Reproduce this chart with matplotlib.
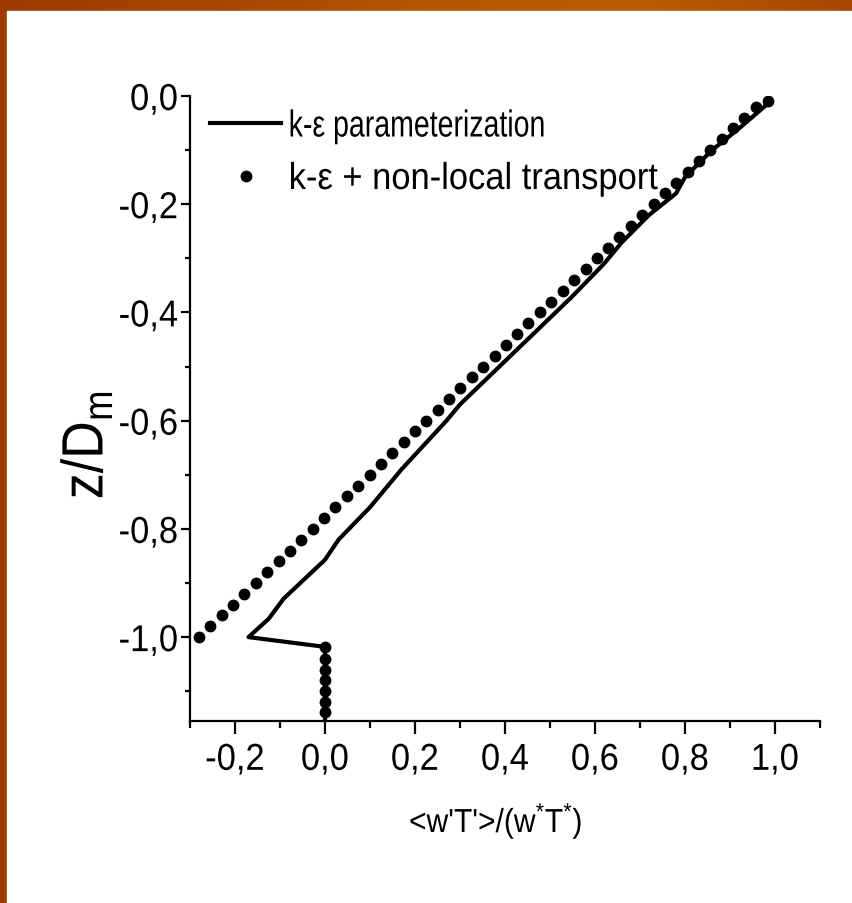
import matplotlib
matplotlib.use('Agg')
import matplotlib.pyplot as plt
from matplotlib.patches import Rectangle
from matplotlib.patheffects import AbstractPathEffect
from matplotlib.transforms import Affine2D
from matplotlib.ticker import MultipleLocator, FuncFormatter
import numpy as np

# k-epsilon parameterization (solid line)
ke_x = [0.0, 0.0, -0.17, -0.125, -0.092, 0.0, 0.03, 0.10, 0.15, 0.17, 0.27,
        0.30, 0.40, 0.45, 0.55, 0.62, 0.66, 0.72, 0.78, 0.80, 0.86, 0.92, 0.99]
ke_z = [-1.16, -1.018, -1.0, -0.966, -0.929, -0.857, -0.82, -0.76, -0.71,
        -0.69, -0.60, -0.57, -0.49, -0.45, -0.37, -0.31, -0.27, -0.22, -0.18,
        -0.15, -0.10, -0.06, -0.01]

# k-epsilon + non-local transport (dots)
nl_x = [0.0, 0.0, 0.0, 0.0, 0.0, 0.0, 0.0,
        -0.280, -0.255, -0.229, -0.204, -0.179, -0.154, -0.128, -0.103,
        -0.078, -0.053, -0.027, -0.002, 0.023, 0.048, 0.074, 0.099, 0.124,
        0.149, 0.175, 0.200, 0.225, 0.250, 0.276, 0.301, 0.326, 0.351, 0.377,
        0.402, 0.427, 0.452, 0.478, 0.503, 0.528, 0.553, 0.579, 0.604, 0.629,
        0.654, 0.680, 0.705, 0.730, 0.755, 0.781, 0.806, 0.831, 0.856, 0.882,
        0.907, 0.932, 0.957, 0.985]
nl_z = [-1.138, -1.12, -1.10, -1.08, -1.06, -1.04, -1.018,
        -1.00, -0.98, -0.96, -0.94, -0.92, -0.90, -0.88, -0.86,
        -0.84, -0.82, -0.80, -0.78, -0.76, -0.74, -0.72, -0.70, -0.68,
        -0.66, -0.64, -0.62, -0.60, -0.58, -0.56, -0.54, -0.52, -0.50, -0.48,
        -0.46, -0.44, -0.42, -0.40, -0.38, -0.36, -0.34, -0.32, -0.30, -0.28,
        -0.26, -0.24, -0.22, -0.20, -0.18, -0.16, -0.14, -0.12, -0.10, -0.08,
        -0.06, -0.04, -0.02, -0.01]

labels = ['k-\u03b5 parameterization', 'k-\u03b5 + non-local transport']


class Squeeze(AbstractPathEffect):
    # squeeze text horizontally, like the narrow font of the original slide
    def __init__(self, sx, anchor='left'):
        super().__init__()
        self.sx = sx
        self.anchor = anchor

    def draw_path(self, renderer, gc, tpath, affine, rgbFace=None):
        xs = tpath.vertices[:, 0]
        x0 = 0.0
        if len(xs) and self.anchor == 'right':
            x0 = xs.max()
        elif len(xs) and self.anchor == 'center':
            x0 = (xs.min() + xs.max()) / 2
        t = Affine2D().translate(-x0, 0).scale(self.sx, 1).translate(x0, 0)
        renderer.draw_path(gc, tpath, t + affine, rgbFace)


plt.rcParams['font.family'] = ['Liberation Sans', 'DejaVu Sans']

W, H = 852, 904
fig = plt.figure(figsize=(W / 100, H / 100), dpi=100)
fig.patch.set_facecolor('#A84800')

# orange frame on top and left, white slide body
bg = fig.add_axes([0, 0, 1, 1], zorder=-10)
grad = np.linspace(0, 1, 256).reshape(1, -1)
bg.imshow(grad, cmap=matplotlib.colors.LinearSegmentedColormap.from_list(
    'frame', ['#9C3A00', '#A84600', '#B65600', '#BA5C00', '#A84800']),
    aspect='auto', extent=[0, 1, 0, 1])
bg.add_patch(Rectangle((7 / W, 0), 1, 1 - 12 / H, color='white'))
bg.set_xlim(0, 1)
bg.set_ylim(0, 1)
bg.axis('off')

ax = fig.add_axes([190 / W, 1 - 722 / H, 630 / W, 625 / H])
ax.set_facecolor('none')

ax.plot(ke_x, ke_z, color='black', lw=3.0, label=labels[0], zorder=3)
ax.plot(nl_x, nl_z, linestyle='none', marker='o', ms=7.5, color='black',
        label=labels[1], zorder=4)

ax.set_xlim(-0.3, 1.1)
ax.set_ylim(-1.155, 0.0)

ax.spines['top'].set_visible(False)
ax.spines['right'].set_visible(False)
for s in ('left', 'bottom'):
    ax.spines[s].set_linewidth(1.6)

ax.xaxis.set_major_locator(MultipleLocator(0.2))
ax.xaxis.set_minor_locator(MultipleLocator(0.1))
ax.yaxis.set_major_locator(MultipleLocator(0.2))
ax.yaxis.set_minor_locator(MultipleLocator(0.1))


def comma(v, pos):
    s = f'{v:.1f}'.replace('.', ',')
    return '0,0' if s == '-0,0' else s


ax.xaxis.set_major_formatter(FuncFormatter(comma))
ax.yaxis.set_major_formatter(FuncFormatter(comma))
ax.tick_params(axis='x', which='major', direction='out', length=9, width=1.6,
               labelsize=27, pad=6)
ax.tick_params(axis='x', which='minor', direction='out', length=5, width=1.6)
ax.tick_params(axis='y', which='major', direction='out', length=6.5, width=1.6,
               labelsize=27, pad=2)
ax.tick_params(axis='y', which='minor', direction='out', length=3.6, width=1.6)

leg = ax.legend(loc='upper left', bbox_to_anchor=(-0.01, 1.022),
                frameon=False, fontsize=27, handlelength=1.9,
                handletextpad=0.2, numpoints=1, borderpad=0.2,
                labelspacing=0.44)
leg.get_texts()[0].set_path_effects([Squeeze(0.76)])
leg.get_texts()[1].set_path_effects([Squeeze(0.92)])

fig.text(87 / W, 1 - 446 / H, 'z/D$_\\mathregular{m}$', rotation=90,
         ha='center', va='center', fontsize=42,
         path_effects=[Squeeze(0.89, 'center')])
fig.text(496 / W, 1 - 822 / H,
         "<w'T'>/(w$^\\mathregular{*}$T$^\\mathregular{*}$)",
         ha='center', va='center', fontsize=24,
         path_effects=[Squeeze(0.9, 'center')])

fig.canvas.draw()
for lab in ax.get_xticklabels():
    lab.set_path_effects([Squeeze(0.92, 'center')])
for lab in ax.get_yticklabels():
    lab.set_path_effects([Squeeze(0.92, 'right')])

fig.savefig('out.png', dpi=100)
